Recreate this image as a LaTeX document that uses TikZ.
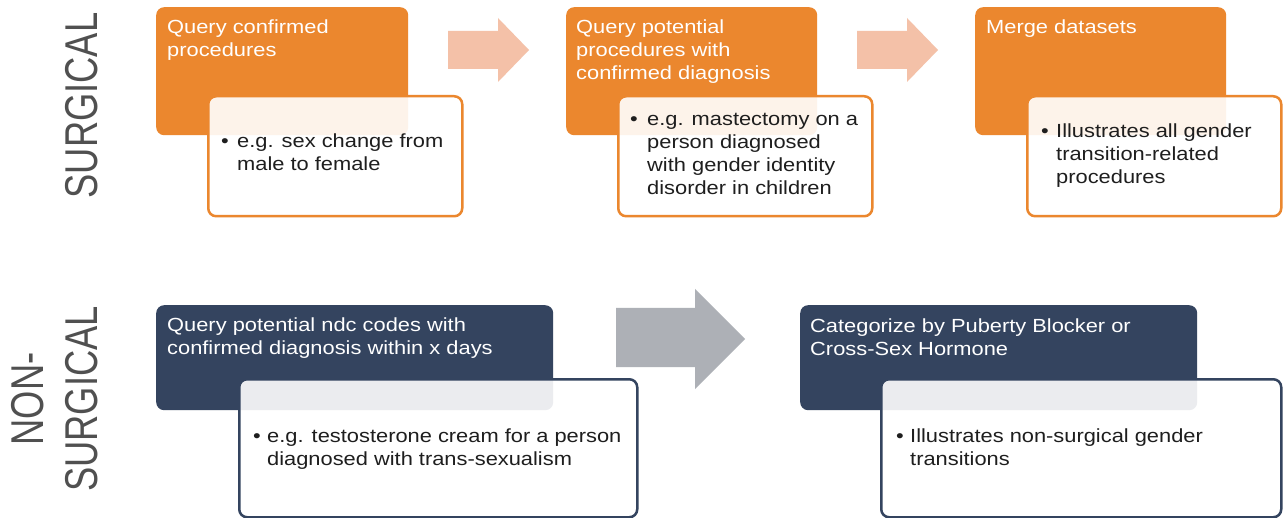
\documentclass[tikz,border=0pt]{standalone}
\usepackage{fontspec}
\setmainfont{Liberation Sans}[FakeStretch=1.15]
\newfontfamily\sidefont{Liberation Sans}[FakeStretch=0.79]
\definecolor{cOrange}{HTML}{EB872E}
\definecolor{cSalmon}{HTML}{F4C1A8}
\definecolor{cNavy}{HTML}{34445F}
\definecolor{cGrayArrow}{HTML}{ADB0B6}
\definecolor{cSide}{HTML}{505050}
\definecolor{cText}{HTML}{1E1E1E}
\newcommand{\bulpar}[2]{\parbox[t]{420pt}{\rightskip=0pt plus 1fil\hangindent=#1\hangafter=1\noindent\makebox[#1][l]{\textbullet}#2}}
\newcommand{\txtpar}[1]{\parbox[t]{420pt}{\rightskip=0pt plus 1fil\noindent #1}}
\begin{document}
\begin{tikzpicture}[x=1pt,y=-1pt,
  box/.style={rectangle, rounded corners=8pt, inner sep=0pt, anchor=north west},
  obox/.style={box, fill=cOrange},
  nbox/.style={box, fill=cNavy},
  wbox/.style={box, fill=white, fill opacity=0.9, line width=2.5pt},
  head/.style={anchor=base west, inner sep=0pt, text=white, font=\fontsize{19}{23}\selectfont},
  bul/.style={anchor=base west, inner sep=0pt, text=cText, font=\fontsize{19}{23}\selectfont},
  side/.style={inner sep=0pt, text=cSide, font=\sidefont\fontsize{46}{54}\selectfont}]
\useasboundingbox (0,0) rectangle (1287,518);
\fill[white] (0,0) rectangle (1287,518);

% side labels
\node[side, rotate=90] (s1) at (81.5,105.5) {SURGICAL};
\node[side, rotate=90, align=center] (s2) at (55,399) {NON-\\SURGICAL};

% block arrows
\fill[cSalmon] (448,31) -- (498,31) -- (498,18) -- (529,50) -- (498,82) -- (498,69) -- (448,69) -- cycle;
\fill[cSalmon] (857,31) -- (907,31) -- (907,18) -- (938,50) -- (907,82) -- (907,69) -- (857,69) -- cycle;
\fill[cGrayArrow] (616,308) -- (695,308) -- (695,289) -- (745,339) -- (695,389) -- (695,367) -- (616,367) -- cycle;

% surgical row
\node[obox, minimum width=252pt, minimum height=128pt] (o1) at (156,7) {};
\node[wbox, draw=cOrange, minimum width=254pt, minimum height=120pt] (w1) at (207,95) {};
\node[obox, minimum width=251pt, minimum height=128pt] (o2) at (566,7) {};
\node[wbox, draw=cOrange, minimum width=254pt, minimum height=120pt] (w2) at (617,95) {};
\node[obox, minimum width=251pt, minimum height=128pt] (o3) at (975,7) {};
\node[wbox, draw=cOrange, minimum width=254pt, minimum height=120pt] (w3) at (1026,95) {};

\node[head] (t1) at (167,34) {\txtpar{Query confirmed\\procedures}};
\node[head] (t2) at (576,34) {\txtpar{Query potential\\procedures with\\confirmed diagnosis}};
\node[head] (t3) at (986,34) {\txtpar{Merge datasets}};

\node[bul] (b1) at (221,148) {\bulpar{16pt}{e.g. sex change from\\male to female}};
\node[bul] (b2) at (630,126) {\bulpar{17pt}{e.g. mastectomy on a\\person diagnosed\\with gender identity\\disorder in children}};
\node[bul] (b3) at (1041,138) {\bulpar{15pt}{Illustrates all gender\\transition-related\\procedures}};

% non-surgical row
\node[nbox, minimum width=397pt, minimum height=105pt] (n1) at (156,305) {};
\node[wbox, draw=cNavy, minimum width=398pt, minimum height=138pt] (v1) at (238,378) {};
\node[nbox, minimum width=397pt, minimum height=105pt] (n2) at (800,305) {};
\node[wbox, draw=cNavy, minimum width=400pt, minimum height=138pt] (v2) at (880,378) {};

\node[head] (t4) at (167,332) {\txtpar{Query potential ndc codes with\\confirmed diagnosis within x days}};
\node[head] (t5) at (810,333) {\txtpar{Categorize by Puberty Blocker or\\Cross-Sex Hormone}};

\node[bul] (b4) at (253,442) {\bulpar{14pt}{e.g. testosterone cream for a person\\diagnosed with trans-sexualism}};
\node[bul] (b5) at (896,442) {\bulpar{14pt}{Illustrates non-surgical gender\\transitions}};
\end{tikzpicture}
\end{document}
